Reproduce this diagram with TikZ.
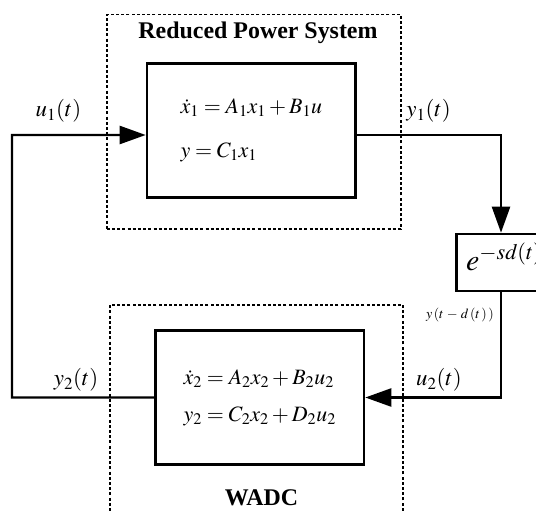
\documentclass[tikz,border=0pt]{standalone}
\usepackage{mathptmx}
\usepackage{fontspec}
\setmainfont{Liberation Serif}
\usetikzlibrary{arrows.meta}
\begin{document}
\begin{tikzpicture}[x=1bp,y=-1bp,
  blk/.style={draw,line width=2.6bp,inner sep=0pt},
  grp/.style={draw,line width=1.6bp,dash pattern=on 3bp off 2.2bp,inner sep=0pt},
  wire/.style={line width=2.4bp},
  arr/.style={-{Triangle[length=26bp,width=18bp]}},
  lbl/.style={font=\fontsize{23}{27}\selectfont,inner sep=0pt},
  ttl/.style={font=\fontsize{24}{28}\selectfont\bfseries,inner sep=0pt}]
\useasboundingbox (0,0) rectangle (536,511);
% group boxes
\node[grp,minimum width=294bp,minimum height=214.6bp] (rps) at (253.7,121.7) {};
\node[grp,minimum width=292.7bp,minimum height=225.3bp] (wadcgrp) at (256.35,417.35) {};
\node[ttl] (ttlrps) at (258,33) {Reduced Power System};
\node[ttl] (ttlwadc) at (261.5,498) {WADC};
% blocks
\node[blk,minimum width=208.6bp,minimum height=134bp,
      font=\fontsize{22}{44}\selectfont,align=left] (plant) at (251.3,130.25)
  {$\dot x_1 = A_1x_1 + B_1u$\\$y = C_1x_1$};
\node[blk,minimum width=208.4bp,minimum height=133.7bp,
      font=\fontsize{22}{37}\selectfont,align=left] (wadc) at (259.8,397.5)
  {$\dot x_2 = A_2x_2 + B_2u_2$\\$y_2 = C_2x_2 + D_2u_2$};
\node[blk,minimum width=110bp,minimum height=57bp] (delay) at (511.5,262.5) {};
\node[anchor=base west,inner sep=0pt,font=\fontsize{30}{34}\selectfont] (delaytxt) at (466,270) {$e^{-sd(t)}$};
% coordinates
\coordinate (c1) at (12,135);
% connectors
\draw[wire,arr] (wadc.west) -- (wadc.west -| c1) -- (c1) -- ([yshift=-4.75bp]plant.west);
\draw[wire,arr] ([yshift=-4.75bp]plant.east) -| ([xshift=-10.5bp]delay.north);
\draw[wire,arr] ([xshift=-10.5bp]delay.south) |- (wadc.east);
% labels
\node[lbl] (lu1) at (58.5,111) {$u_1(t)$};
\node[lbl] (ly1) at (428.5,111) {$y_1(t)$};
\node[lbl] (ly2) at (76,380) {$y_2(t)$};
\node[lbl] (lu2) at (439,380) {$u_2(t)$};
\node[inner sep=0pt,font=\fontsize{14}{16}\selectfont] (ld) at (460,315) {$y\,(t\;{-}\;d\,(t\,)\,)$};
\end{tikzpicture}
\end{document}
